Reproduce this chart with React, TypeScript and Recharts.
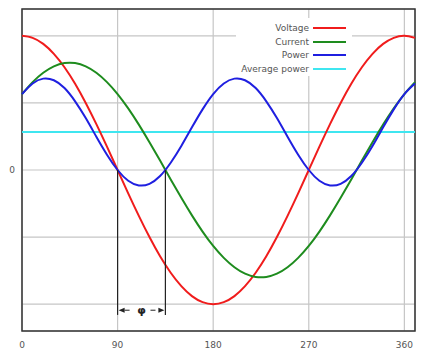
import React from 'react';
import { LineChart, Line, XAxis, YAxis, CartesianGrid, ReferenceLine, ReferenceArea, Legend } from 'recharts';

// phase angle in degrees
const angles = [0, 10, 20, 30, 40, 50, 60, 70, 80, 90, 100, 110, 120, 130, 140, 150, 160, 170, 180,
  190, 200, 210, 220, 230, 240, 250, 260, 270, 280, 290, 300, 310, 320, 330, 340, 350, 360, 370];

const voltage = [1.0, 0.985, 0.94, 0.866, 0.766, 0.643, 0.5, 0.342, 0.174, 0.0, -0.174, -0.342, -0.5, -0.643, -0.766, -0.866, -0.94, -0.985, -1.0,
  -0.985, -0.94, -0.866, -0.766, -0.643, -0.5, -0.342, -0.174, 0.0, 0.174, 0.342, 0.5, 0.643, 0.766, 0.866, 0.94, 0.985, 1.0, 0.985];

const current = [0.566, 0.655, 0.725, 0.773, 0.797, 0.797, 0.773, 0.725, 0.655, 0.566, 0.459, 0.338, 0.207, 0.07, -0.07, -0.207, -0.338, -0.459, -0.566,
  -0.655, -0.725, -0.773, -0.797, -0.797, -0.773, -0.725, -0.655, -0.566, -0.459, -0.338, -0.207, -0.07, 0.07, 0.207, 0.338, 0.459, 0.566, 0.655];

const power = [0.566, 0.645, 0.681, 0.669, 0.611, 0.512, 0.387, 0.248, 0.114, 0.0, -0.08, -0.115, -0.103, -0.045, 0.054, 0.179, 0.318, 0.452, 0.566,
  0.645, 0.681, 0.669, 0.611, 0.512, 0.387, 0.248, 0.114, 0.0, -0.08, -0.115, -0.103, -0.045, 0.054, 0.179, 0.318, 0.452, 0.566, 0.645];

const avgPower = 0.283;
const avgEnds = [0, 370];

const xTicks = [0, 90, 180, 270, 360];
const yTicks = [-1, -0.5, 0, 0.5, 1];

// zero crossings of voltage and current, for the phase marker
const phaseFrom = 90;
const phaseTo = 135;

const data = angles.map((a, i) => ({ x: a, voltage: voltage[i], current: current[i], power: power[i] }));
const avgData = avgEnds.map(a => ({ x: a, avg: avgPower }));

const legendItems = [
  { name: 'Voltage', color: '#f01c1c' },
  { name: 'Current', color: '#1e8c1e' },
  { name: 'Power', color: '#1f1fe0' },
  { name: 'Average power', color: '#3fe6f0' },
];

const font = '"DejaVu Sans", sans-serif';

const LegendBox = () => (
  <div style={{ background: '#fff', padding: '3px 6px 0 0', fontFamily: font, fontSize: 9, color: '#555' }}>
    {legendItems.map(it => (
      <div key={it.name} style={{ display: 'flex', alignItems: 'center', justifyContent: 'flex-end', height: 13.7 }}>
        <span style={{ marginRight: 4 }}>{it.name}</span>
        <span style={{ display: 'inline-block', width: 33, height: 2, background: it.color }} />
      </div>
    ))}
  </div>
);

const PhaseArrow = (props: any) => {
  const { x1, x2, y1 } = props;
  const mid = (x1 + x2) / 2;
  const c = '#222';
  return (
    <g>
      <polygon points={`${x1 + 1},${y1} ${x1 + 7},${y1 - 2.5} ${x1 + 7},${y1 + 2.5}`} fill={c} />
      <line x1={x1 + 7} y1={y1} x2={mid - 9} y2={y1} stroke={c} strokeWidth={1} strokeDasharray="5 3" />
      <line x1={mid + 9} y1={y1} x2={x2 - 7} y2={y1} stroke={c} strokeWidth={1} strokeDasharray="5 3" />
      <polygon points={`${x2 - 1},${y1} ${x2 - 7},${y1 - 2.5} ${x2 - 7},${y1 + 2.5}`} fill={c} />
      <text x={mid} y={y1 + 3.5} textAnchor="middle" fontSize={11} fontWeight="bold" fill={c} fontFamily={font}>φ</text>
    </g>
  );
};

export default function App() {
  return (
    <div style={{ position: 'absolute', left: 0, top: 0, width: 444, height: 356, background: '#fff' }}>
      <LineChart width={444} height={356} data={data} margin={{ top: 9, right: 29, left: 0, bottom: 0 }}>
        <CartesianGrid stroke="#c6c6c6" strokeWidth={1.2} />
        <XAxis
          dataKey="x"
          type="number"
          domain={[0, 370]}
          ticks={xTicks}
          height={25}
          axisLine={false}
          tickLine={false}
          tickMargin={5}
          tick={{ fontSize: 9, fill: '#555', fontFamily: font }}
        />
        <YAxis
          type="number"
          domain={[-1.2, 1.2]}
          ticks={yTicks}
          width={22}
          axisLine={false}
          tickLine={false}
          tickMargin={1}
          tickFormatter={(v: number) => (v === 0 ? '0' : '')}
          tick={{ fontSize: 9, fill: '#555', fontFamily: font }}
        />
        <ReferenceArea x1={0} x2={370} y1={-1.2} y2={1.2} fill="none" fillOpacity={0} stroke="#333" strokeWidth={1.5} />
        <Line data={avgData} dataKey="avg" stroke="#3fe6f0" strokeWidth={2} dot={false} isAnimationActive={false} />
        <Line dataKey="voltage" type="natural" stroke="#f01c1c" strokeWidth={2} dot={false} isAnimationActive={false} />
        <Line dataKey="current" type="natural" stroke="#1e8c1e" strokeWidth={2} dot={false} isAnimationActive={false} />
        <Line dataKey="power" type="natural" stroke="#1f1fe0" strokeWidth={2} dot={false} isAnimationActive={false} />
        <ReferenceLine segment={[{ x: phaseFrom, y: 0 }, { x: phaseFrom, y: -1.08 }]} stroke="#222" strokeWidth={1.2} />
        <ReferenceLine segment={[{ x: phaseTo, y: 0 }, { x: phaseTo, y: -1.08 }]} stroke="#222" strokeWidth={1.2} />
        <ReferenceLine segment={[{ x: phaseFrom, y: -1.045 }, { x: phaseTo, y: -1.045 }]} shape={PhaseArrow} />
        <Legend
          layout="horizontal"
          verticalAlign="middle"
          align="center"
          content={() => <LegendBox />}
          wrapperStyle={{ position: 'absolute', left: 236, top: 18, width: 116, height: 'auto' }}
        />
      </LineChart>
    </div>
  );
}
